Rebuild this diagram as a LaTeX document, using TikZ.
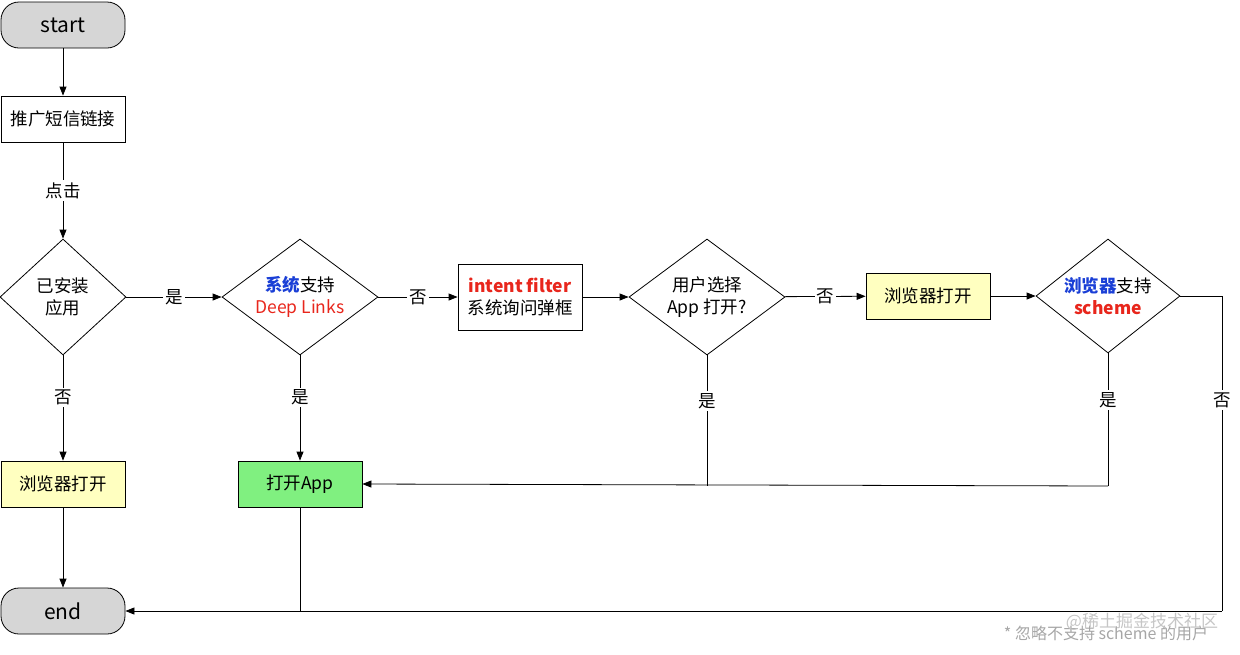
\documentclass[tikz,border=0pt]{standalone}
\usepackage{fontspec}
\setmainfont{Noto Sans CJK SC}
\usetikzlibrary{shapes.geometric,arrows.meta}
\definecolor{bl}{HTML}{1A3FD6}
\definecolor{rd}{HTML}{E8261C}
\definecolor{yl}{HTML}{FFFFC0}
\definecolor{gr}{HTML}{80F080}
\definecolor{gy}{HTML}{D6D6D6}
\begin{document}
\begin{tikzpicture}[x=1pt,y=-1pt,
  every node/.style={font=\fontsize{17.5}{22}\selectfont},
  box/.style={draw,thick,minimum width=124,minimum height=46,inner sep=0,align=center},
  term/.style={box,rounded corners=18,fill=gy,font=\fontsize{21}{24}\selectfont},
  dia/.style={draw,thick,diamond,aspect=1.3,minimum width=156,minimum height=116,inner sep=0,align=center},
  lab/.style={fill=white,inner sep=2},
  arr/.style={thick,-{Triangle[length=9,width=7]}},
  ln/.style={thick}]
\useasboundingbox (0,0) rectangle (1240,654);
\node[term] (start) at (63,25) {start};
\node[box] (sms) at (63,119) {推广短信链接};
\node[dia,minimum width=126] (inst) at (63,297) {已安装\\应用};
\node[dia] (dl) at (300,297) {\textcolor{bl}{\textbf{系统}}支持\\\textcolor{rd}{Deep Links}};
\node[box,minimum height=66] (intent) at (520,297) {\textcolor{rd}{\textbf{intent filter}}\\系统询问弹框};
\node[dia] (user) at (707,297) {用户选择\\App 打开?};
\node[box,fill=yl] (br1) at (928,296) {浏览器打开};
\node[dia,minimum width=144,minimum height=114] (bs) at (1108,296) {\textcolor{bl}{\textbf{浏览器}}支持\\\textcolor{rd}{\textbf{scheme}}};
\node[box,fill=yl] (br2) at (63,484) {浏览器打开};
\node[box,fill=gr] (app) at (300,484) {打开App};
\node[term] (end) at (63,611) {end};
\coordinate (c1) at (707,486);
\coordinate (c2) at (1108,486);
\coordinate (r1) at (1222,296);
\coordinate (r2) at (1222,611);
\coordinate (a2) at (300,611);

\draw[arr] (start) -- (sms);
\draw[arr] (sms) -- node[lab]{点击} (inst);
\draw[arr] (inst) -- node[lab]{是} (dl);
\draw[arr] (dl) -- node[lab]{否} (intent);
\draw[arr] (intent) -- (user);
\draw[arr] (user) -- node[lab]{否} (br1);
\draw[arr] (br1) -- (bs);
\draw[arr] (inst) -- node[lab,pos=0.4]{否} (br2);
\draw[arr] (br2) -- (end);
\draw[arr] (dl) -- node[lab,pos=0.4]{是} (app);
\draw[ln] (user) -- node[lab,pos=0.35]{是} (c1);
\draw[ln] (bs) -- node[lab,pos=0.35]{是} (c2);
\draw[arr] (c2) -- (app.east);
\draw[ln] (bs.east) -- (r1) -- node[lab,pos=0.33]{否} (r2);
\draw[arr] (r2) -- (end);
\draw[ln] (app) -- (a2);
\node[text=gray!70,font=\fontsize{16}{18}\selectfont] (note) at (1106,633) {* 忽略不支持 scheme 的用户};
\node[text=gray!45,font=\fontsize{17}{18}\selectfont] (wm) at (1142,622) {@稀土掘金技术社区};
\end{tikzpicture}
\end{document}
